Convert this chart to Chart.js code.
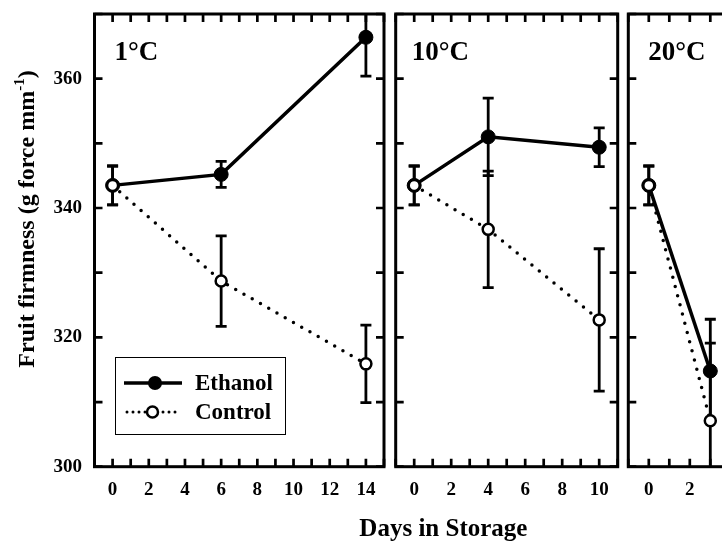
<!DOCTYPE html>
<html>
<head>
<meta charset="utf-8">
<script src="https://cdn.jsdelivr.net/npm/chart.js@4.4.1/dist/chart.umd.min.js"></script>
<style>
  html, body { margin: 0; padding: 0; background: #fff; overflow: hidden; }
  #wrap { position: relative; width: 722px; height: 542px; overflow: hidden; }
  #wrap canvas { position: absolute; left: 0; top: 0; }
</style>
</head>
<body>
<div id="wrap">
  <canvas id="c1" width="722" height="542"></canvas>
  <canvas id="c2" width="722" height="542"></canvas>
  <canvas id="c3" width="900" height="542"></canvas>
</div>
<script>
// values (g force mm-1), error = bar half length
var panelNames = ['1°C', '10°C', '20°C'];

var days1 = [0, 6, 14];
var ethanol1 = [343.5, 345.2, 366.4];
var ethanolErr1 = [3, 2, 6];
var control1 = [343.5, 328.7, 315.9];
var controlErr1 = [3, 7, 6];

var days2 = [0, 4, 10];
var ethanol2 = [343.5, 351.0, 349.4];
var ethanolErr2 = [3, 6, 3];
var control2 = [343.5, 336.7, 322.7];
var controlErr2 = [3, 9, 11];

var days3 = [0, 3];
var ethanol3 = [343.5, 314.8];
var ethanolErr3 = [3, 8];
var control3 = [343.5, 307.1];
var controlErr3 = [3, 12];

var xLabels1 = [0, 2, 4, 6, 8, 10, 12, 14];
var xLabels2 = [0, 2, 4, 6, 8, 10];
var xLabels3 = [0, 2, 4, 6];
var yLabels = [300, 320, 340, 360];

var serif = "'Liberation Serif', 'Times New Roman', serif";
Chart.defaults.font.family = serif;
Chart.defaults.font.weight = 'bold';
Chart.defaults.color = '#000';

function toPoints(xs, ys) {
  return xs.map(function(d, i) { return { x: d, y: ys[i] }; });
}

var firstChart;

function drawLegend(ctx) {
  ctx.save();
  ctx.strokeStyle = '#000';
  ctx.lineWidth = 1;
  ctx.strokeRect(115.5, 357.5, 170, 77);

  ctx.lineWidth = 3.5;
  ctx.beginPath(); ctx.moveTo(124, 383); ctx.lineTo(182, 383); ctx.stroke();
  ctx.fillStyle = '#000';
  ctx.beginPath(); ctx.arc(155, 383, 7, 0, Math.PI * 2); ctx.fill();

  ctx.lineWidth = 3;
  ctx.lineCap = 'round';
  ctx.setLineDash([0, 6]);
  ctx.beginPath(); ctx.moveTo(127, 412); ctx.lineTo(179, 412); ctx.stroke();
  ctx.setLineDash([]);
  ctx.fillStyle = '#fff';
  ctx.lineWidth = 2.5;
  ctx.beginPath(); ctx.arc(152.5, 412, 5.5, 0, Math.PI * 2); ctx.fill(); ctx.stroke();

  ctx.fillStyle = '#000';
  ctx.font = 'bold 23px ' + serif;
  ctx.textBaseline = 'alphabetic';
  ctx.fillText('Ethanol', 195, 390);
  ctx.fillText('Control', 195, 418.5);
  ctx.restore();
}

function drawYTitle(ctx) {
  var main = 'Fruit firmness (g force mm';
  ctx.save();
  ctx.font = 'bold 24px ' + serif;
  var w1 = ctx.measureText(main).width;
  ctx.font = 'bold 15px ' + serif;
  var w2 = ctx.measureText('-1').width;
  ctx.font = 'bold 24px ' + serif;
  var w3 = ctx.measureText(')').width;
  var total = w1 + w2 + w3;
  ctx.translate(34, 219);
  ctx.rotate(-Math.PI / 2);
  ctx.fillStyle = '#000';
  ctx.textBaseline = 'alphabetic';
  ctx.fillText(main, -total / 2, 0);
  ctx.font = 'bold 15px ' + serif;
  ctx.fillText('-1', -total / 2 + w1, -10);
  ctx.font = 'bold 24px ' + serif;
  ctx.fillText(')', -total / 2 + w1 + w2, 0);
  ctx.restore();
}

function panelPlugin(eErr, cErr, name, labelOff, extra) {
  return {
    id: 'panel',
    beforeDatasetsDraw: function(chart) {
      var ctx = chart.ctx, a = chart.chartArea;
      var sx = chart.scales.x, sy = chart.scales.y;
      var errs = [eErr, cErr];
      ctx.save();
      ctx.beginPath();
      ctx.rect(a.left, a.top, a.right - a.left, a.bottom - a.top);
      ctx.clip();
      ctx.strokeStyle = '#000';
      ctx.lineWidth = 2.8;
      chart.data.datasets.forEach(function(ds, k) {
        ds.data.forEach(function(p, i) {
          var e = errs[k][i];
          var px = sx.getPixelForValue(p.x);
          var top = sy.getPixelForValue(p.y + e);
          var bot = sy.getPixelForValue(p.y - e);
          ctx.beginPath();
          ctx.moveTo(px, top); ctx.lineTo(px, bot);
          ctx.moveTo(px - 5.5, top); ctx.lineTo(px + 5.5, top);
          ctx.moveTo(px - 5.5, bot); ctx.lineTo(px + 5.5, bot);
          ctx.stroke();
        });
      });
      ctx.restore();
    },
    afterDraw: function(chart) {
      var ctx = chart.ctx, a = chart.chartArea;
      var sx = chart.scales.x, sy = chart.scales.y;
      ctx.save();
      ctx.strokeStyle = '#000';
      ctx.lineWidth = 2.7;
      ctx.beginPath();
      sx.ticks.forEach(function(t) {
        var px = sx.getPixelForValue(t.value);
        ctx.moveTo(px, a.bottom); ctx.lineTo(px, a.bottom - 8);
        ctx.moveTo(px, a.top); ctx.lineTo(px, a.top + 8);
      });
      sy.ticks.forEach(function(t) {
        var py = sy.getPixelForValue(t.value);
        ctx.moveTo(a.left, py); ctx.lineTo(a.left + 8, py);
        ctx.moveTo(a.right, py); ctx.lineTo(a.right - 8, py);
      });
      ctx.stroke();
      ctx.lineWidth = 3;
      ctx.strokeRect(a.left, a.top, a.right - a.left, a.bottom - a.top);

      ctx.fillStyle = '#000';
      ctx.font = 'bold 27px ' + serif;
      ctx.textBaseline = 'alphabetic';
      ctx.fillText(name, a.left + labelOff, 60);
      ctx.restore();
      if (extra) extra(chart);
    }
  };
}

function makePanel(id, days, eth, ethErr, con, conErr, xMax, xLabels, name, labelOff, pad, showY, extra) {
  var ctx = document.getElementById(id);
  return new Chart(ctx, {
    type: 'line',
    data: {
      datasets: [
        {
          label: 'Ethanol',
          data: toPoints(days, eth),
          borderColor: '#000',
          borderWidth: 3.5,
          pointRadius: 7,
          pointBackgroundColor: '#000',
          pointBorderColor: '#000',
          pointBorderWidth: 1,
          tension: 0,
          order: 1
        },
        {
          label: 'Control',
          data: toPoints(days, con),
          borderColor: '#000',
          borderWidth: 3.5,
          borderDash: [0, 9.5],
          borderCapStyle: 'round',
          pointRadius: 5.5,
          pointBackgroundColor: '#fff',
          pointBorderColor: '#000',
          pointBorderWidth: 2.5,
          tension: 0,
          order: 0
        }
      ]
    },
    options: {
      responsive: false,
      animation: false,
      events: [],
      layout: { padding: pad },
      plugins: { legend: { display: false }, tooltip: { enabled: false } },
      scales: {
        x: {
          type: 'linear',
          min: -1,
          max: xMax,
          grid: { display: false, drawTicks: false, tickLength: 0 },
          border: { display: false },
          ticks: {
            stepSize: 1,
            autoSkip: false,
            maxRotation: 0,
            padding: 12,
            font: { size: 19, weight: 'bold' },
            callback: function(v) { return xLabels.indexOf(v) >= 0 ? String(v) : ''; }
          },
          afterFit: function(s) { s.height = 40; s.paddingLeft = 0; s.paddingRight = 0; }
        },
        y: {
          type: 'linear',
          min: 300,
          max: 370,
          grid: { display: false, drawTicks: false, tickLength: 0 },
          border: { display: false },
          ticks: {
            display: showY,
            stepSize: 10,
            padding: 12.5,
            font: { size: 19, weight: 'bold' },
            callback: function(v) { return yLabels.indexOf(v) >= 0 ? String(v) : ''; }
          },
          afterFit: function(s) { s.width = showY ? 94.5 : 0; s.paddingTop = 0; s.paddingBottom = 0; }
        }
      }
    },
    plugins: [panelPlugin(ethErr, conErr, name, labelOff, extra)]
  });
}

firstChart = makePanel('c1', days1, ethanol1, ethanolErr1, control1, controlErr1, 15, xLabels1,
  panelNames[0], 20, { left: 0, right: 338, top: 14, bottom: 35.3 }, true,
  function(chart) { drawLegend(chart.ctx); drawYTitle(chart.ctx); });

makePanel('c2', days2, ethanol2, ethanolErr2, control2, controlErr2, 11, xLabels2,
  panelNames[1], 16, { left: 395.7, right: 104.3, top: 14, bottom: 35.3 }, false, null);

makePanel('c3', days3, ethanol3, ethanolErr3, control3, controlErr3, 7, xLabels3,
  panelNames[2], 20, { left: 628.3, right: 107.7, top: 14, bottom: 35.3 }, false,
  function(chart) {
    var ctx = chart.ctx;
    var mid = (firstChart.chartArea.left + chart.chartArea.right) / 2;
    ctx.save();
    ctx.fillStyle = '#000';
    ctx.font = 'bold 25px ' + serif;
    ctx.textAlign = 'center';
    ctx.textBaseline = 'alphabetic';
    ctx.fillText('Days in Storage', mid, 536);
    ctx.restore();
  });
</script>
</body>
</html>
